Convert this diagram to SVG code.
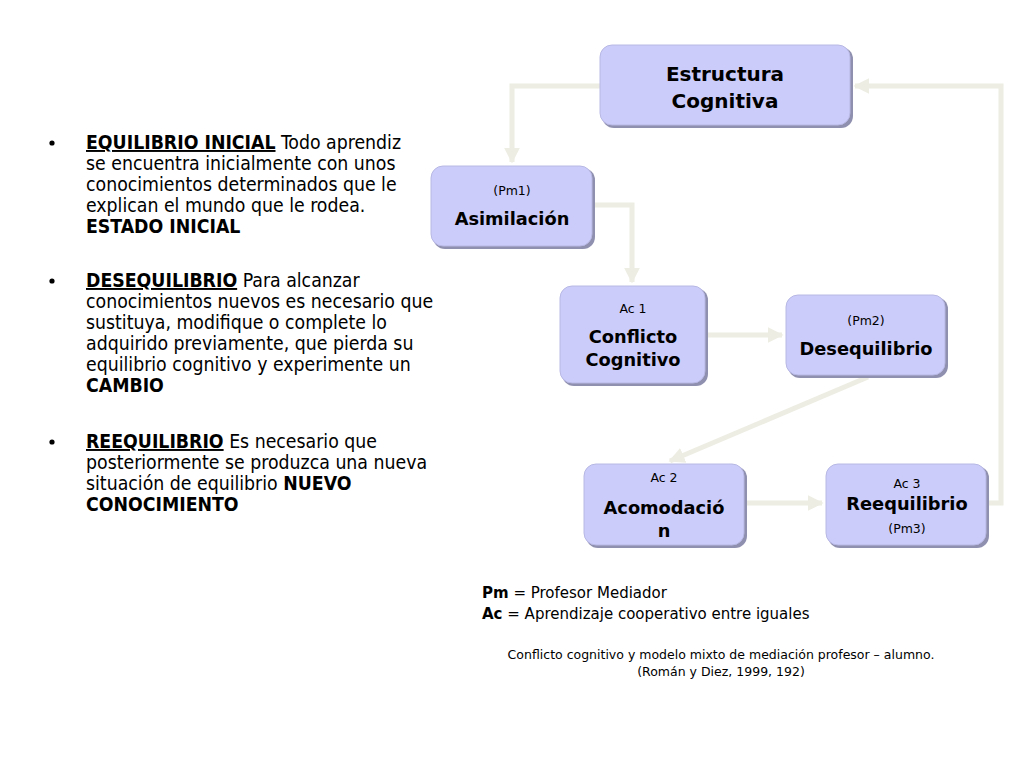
<svg xmlns="http://www.w3.org/2000/svg" width="1024" height="768" viewBox="0 0 1024 768">
<defs>
<style>
.body{font-family:Tahoma,"DejaVu Sans",sans-serif;font-size:19.3px;font-stretch:condensed;fill:#000}
.b{font-weight:bold}
.u{text-decoration:underline}
.node rect.sh{fill:#8f8fb0}
.node rect.bx{fill:#ccccfa;stroke:#b8b8e4;stroke-width:1}
.t{font-family:Tahoma,"DejaVu Sans",sans-serif;font-weight:bold;fill:#000;text-anchor:middle}
.s{font-family:Tahoma,"DejaVu Sans",sans-serif;font-size:12.5px;fill:#000;text-anchor:middle}
.c{fill:none;stroke:#eeede4;stroke-width:5}
.leg{font-family:Tahoma,"DejaVu Sans",sans-serif;font-size:15px;fill:#000}
.cap{font-family:Tahoma,"DejaVu Sans",sans-serif;font-size:12.5px;fill:#000;text-anchor:middle}
</style>
<marker id="ah" viewBox="0 0 10 10" refX="9" refY="5" markerWidth="3.2" markerHeight="3.2" orient="auto" markerUnits="strokeWidth">
<path d="M0,0 L10,5 L0,10 z" fill="#eeede4"/>
</marker>
</defs>
<rect width="1024" height="768" fill="#fff"/>

<g id="text-left" class="body">
<circle cx="52" cy="143" r="2.6"/>
<text x="86" y="149"><tspan class="b u">EQUILIBRIO INICIAL</tspan> Todo aprendiz</text>
<text x="86" y="170">se encuentra inicialmente con unos</text>
<text x="86" y="191">conocimientos determinados que le</text>
<text x="86" y="212">explican el mundo que le rodea.</text>
<text x="86" y="233" class="b">ESTADO INICIAL</text>
<circle cx="52" cy="281" r="2.6"/>
<text x="86" y="287"><tspan class="b u">DESEQUILIBRIO</tspan> Para alcanzar</text>
<text x="86" y="308">conocimientos nuevos es necesario que</text>
<text x="86" y="329">sustituya, modifique o complete lo</text>
<text x="86" y="350">adquirido previamente, que pierda su</text>
<text x="86" y="371">equilibrio cognitivo y experimente un</text>
<text x="86" y="392" class="b">CAMBIO</text>
<circle cx="52" cy="442" r="2.6"/>
<text x="86" y="448"><tspan class="b u">REEQUILIBRIO</tspan> Es necesario que</text>
<text x="86" y="469">posteriormente se produzca una nueva</text>
<text x="86" y="490">situación de equilibrio <tspan class="b">NUEVO</tspan></text>
<text x="86" y="511" class="b">CONOCIMIENTO</text>
</g>

<g id="connectors">
<polyline class="c" points="600,86 512,86 512,162" marker-end="url(#ah)"/>
<polyline class="c" points="593,205 632,205 632,282" marker-end="url(#ah)"/>
<line class="c" x1="706" y1="335" x2="782" y2="335" marker-end="url(#ah)"/>
<line class="c" x1="868" y1="377" x2="670" y2="461" marker-end="url(#ah)"/>
<line class="c" x1="745" y1="503" x2="822" y2="503" marker-end="url(#ah)"/>
<polyline class="c" points="988,503 1001,503 1001,86 855,86" marker-end="url(#ah)"/>
</g>

<g id="n-estructura" class="node">
<rect class="sh" x="602" y="47" width="251" height="81" rx="12"/>
<rect class="bx" x="600" y="45" width="250" height="80" rx="12"/>
<text class="t" x="725" y="81" font-size="20">Estructura</text>
<text class="t" x="725" y="108" font-size="20">Cognitiva</text>
</g>

<g id="n-asimilacion" class="node">
<rect class="sh" x="433" y="168" width="162" height="81" rx="12"/>
<rect class="bx" x="431" y="166" width="161" height="80" rx="12"/>
<text class="s" x="512" y="195">(Pm1)</text>
<text class="t" x="512" y="225" font-size="17.8">Asimilación</text>
</g>

<g id="n-conflicto" class="node">
<rect class="sh" x="562" y="288" width="146" height="98" rx="12"/>
<rect class="bx" x="560" y="286" width="145" height="97" rx="12"/>
<text class="s" x="633" y="313">Ac 1</text>
<text class="t" x="633" y="343" font-size="17.8">Conflicto</text>
<text class="t" x="633" y="366" font-size="17.8">Cognitivo</text>
</g>

<g id="n-desequilibrio" class="node">
<rect class="sh" x="788" y="297" width="160" height="81" rx="12"/>
<rect class="bx" x="786" y="295" width="159" height="80" rx="12"/>
<text class="s" x="866" y="325">(Pm2)</text>
<text class="t" x="866" y="355" font-size="17.8">Desequilibrio</text>
</g>

<g id="n-acomodacion" class="node">
<rect class="sh" x="586" y="466" width="161" height="82" rx="12"/>
<rect class="bx" x="584" y="464" width="160" height="81" rx="12"/>
<text class="s" x="664" y="482">Ac 2</text>
<text class="t" x="664" y="514" font-size="17.8">Acomodació</text>
<text class="t" x="664" y="537" font-size="17.8">n</text>
</g>

<g id="n-reequilibrio" class="node">
<rect class="sh" x="828" y="466" width="161" height="82" rx="12"/>
<rect class="bx" x="826" y="464" width="160" height="81" rx="12"/>
<text class="s" x="907" y="488">Ac 3</text>
<text class="t" x="907" y="510" font-size="17.8">Reequilibrio</text>
<text class="s" x="907" y="533">(Pm3)</text>
</g>

<g id="legend">
<text class="leg" x="482" y="598"><tspan font-weight="bold">Pm</tspan> = Profesor Mediador</text>
<text class="leg" x="482" y="619"><tspan font-weight="bold">Ac</tspan> = Aprendizaje cooperativo entre iguales</text>
<text class="cap" x="721" y="659">Conflicto cognitivo y modelo mixto de mediación profesor – alumno.</text>
<text class="cap" x="721" y="676">(Román y Diez, 1999, 192)</text>
</g>
</svg>
